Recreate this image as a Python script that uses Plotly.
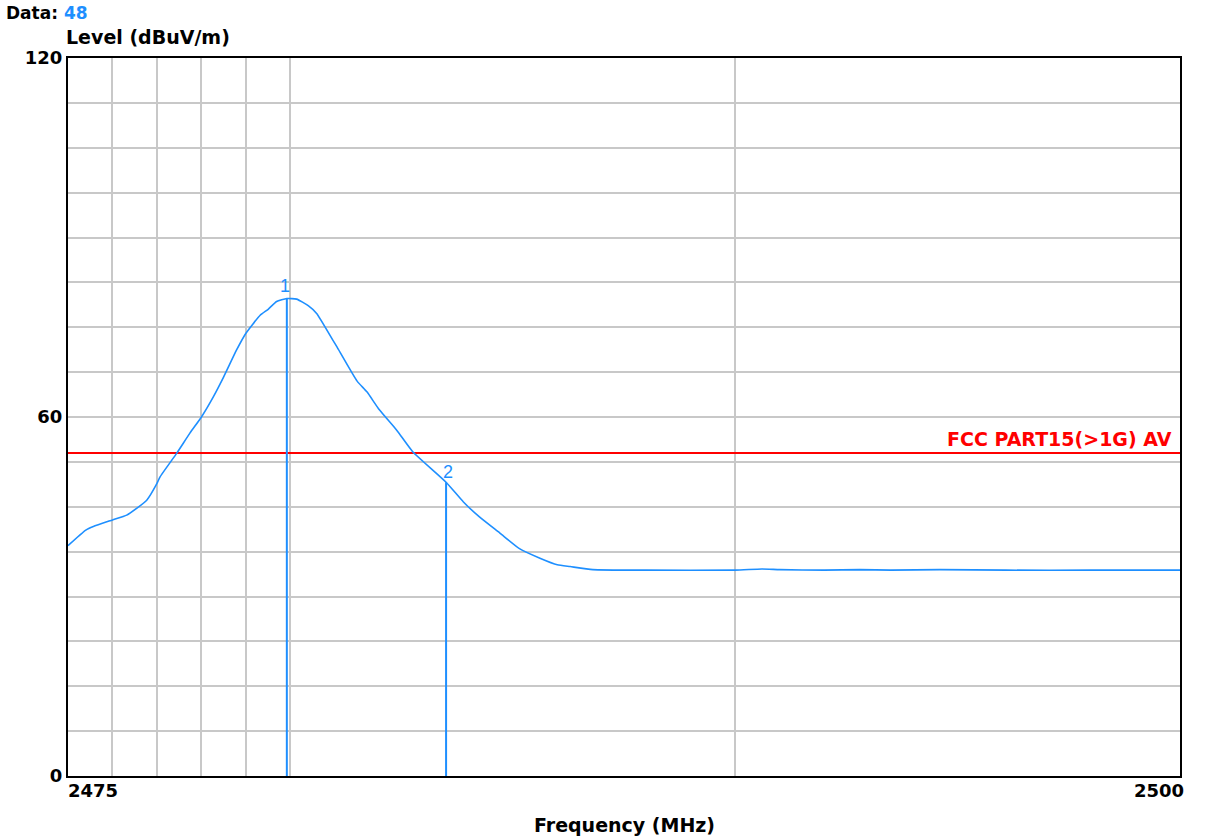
import plotly.graph_objects as go

# ---- data ----
freq_mhz = [2475.0, 2475.4, 2475.57, 2476.0, 2476.32, 2476.77, 2477.0, 2477.07,
            2477.45, 2477.74, 2478.0, 2478.27, 2478.5, 2478.79, 2479.0, 2479.32, 2479.5,
            2479.69, 2479.92, 2480.14, 2480.4, 2480.59, 2480.95, 2481.04, 2481.5, 2481.72,
            2482.0, 2482.39, 2482.75, 2483.5, 2483.89, 2484.25, 2484.71, 2485.15, 2485.61,
            2486.0, 2486.29, 2486.8, 2488.0, 2490.0, 2490.6, 2491.0, 2492.0, 2492.8,
            2493.5, 2494.6, 2496.1, 2498.0, 2500.0]
level_dbuv = [38.5, 41.1, 41.7, 42.8, 43.6, 46.1, 48.9, 50.0,
              54.0, 57.3, 60.0, 63.4, 66.7, 71.2, 74.0, 77.0, 78.0,
              79.3, 79.8, 79.7, 78.6, 77.3, 72.9, 71.8, 66.0, 64.2,
              61.2, 57.8, 54.2, 49.1, 45.8, 43.3, 40.6, 38.0, 36.4,
              35.3, 35.0, 34.5, 34.4, 34.4, 34.6, 34.5, 34.4, 34.5,
              34.4, 34.5, 34.4, 34.4, 34.4]

marker_labels = ["1", "2"]
marker_freq = [2479.92, 2483.5]
marker_level = [79.8, 49.1]

limit_name = "FCC PART15(>1G) AV"
limit_level = 54.0

x_range = [2475, 2500]
y_range = [0, 120]
x_tick_labels = ["2475", "2500"]
y_tick_vals = [0, 60, 120]
x_grid_vals = [2476, 2477, 2478, 2479, 2480, 2490]
y_grid_step = 7.5

BLUE = "#1E8FFF"
RED = "#FF0000"
GRID = "#C8C8C8"
FONT = "DejaVu Sans, Verdana, sans-serif"
MFONT = "Liberation Sans, Arial, sans-serif"

fig = go.Figure()

# limit line
fig.add_trace(go.Scatter(x=x_range, y=[limit_level, limit_level], mode="lines",
                         line=dict(color=RED, width=2), hoverinfo="skip"))

# markers (vertical lines from 0 to level)
for lab, f, lv in zip(marker_labels, marker_freq, marker_level):
    fig.add_trace(go.Scatter(x=[f, f], y=[y_range[0], lv], mode="lines",
                             line=dict(color=BLUE, width=2), hoverinfo="skip"))
    fig.add_annotation(x=f, y=lv, text=lab, showarrow=False, yanchor="bottom",
                       xanchor="left" if lab == "2" else "center",
                       xshift=-5 if lab == "2" else -2, yshift=1 if lab == "1" else -2,
                       font=dict(family=MFONT, size=18, color=BLUE))

# measurement trace
fig.add_trace(go.Scatter(x=freq_mhz, y=level_dbuv, mode="lines",
                         line=dict(color=BLUE, width=1.6, shape="spline", smoothing=0.5),
                         hoverinfo="skip"))

# limit label
fig.add_annotation(x=x_range[1], y=limit_level, text="<b>" + limit_name + "</b>",
                   showarrow=False, xanchor="right", yanchor="bottom",
                   xshift=-6, yshift=1,
                   font=dict(family=FONT, size=19, color=RED))

# x tick labels
fig.add_annotation(x=x_range[0], y=0, yref="paper", text="<b>" + x_tick_labels[0] + "</b>",
                   showarrow=False, xanchor="left", yanchor="top", yshift=-2, xshift=-2,
                   font=dict(family=FONT, size=18, color="black"))
fig.add_annotation(x=x_range[1], y=0, yref="paper", text="<b>" + x_tick_labels[1] + "</b>",
                   showarrow=False, xanchor="right", yanchor="top", yshift=-2, xshift=6,
                   font=dict(family=FONT, size=18, color="black"))

# titles
fig.add_annotation(x=0, y=1, xref="paper", yref="paper", text="<b>Level (dBuV/m)</b>",
                   showarrow=False, xanchor="left", yanchor="bottom", xshift=-3, yshift=9,
                   borderpad=0, font=dict(family=FONT, size=19, color="black"))
fig.add_annotation(x=0, y=1, xref="paper", yref="paper",
                   text="<b>Data: <span style='color:%s'>48</span></b>" % BLUE,
                   showarrow=False, xanchor="left", yanchor="bottom", xshift=-63, yshift=34,
                   borderpad=0, font=dict(family=FONT, size=17, color="black"))
fig.add_annotation(x=0.5, y=0, xref="paper", yref="paper", text="<b>Frequency (MHz)</b>",
                   showarrow=False, xanchor="center", yanchor="top", yshift=-36,
                   font=dict(family=FONT, size=19, color="black"))

fig.update_layout(
    width=1210, height=838,
    margin=dict(l=68, r=30, t=58, b=62),
    paper_bgcolor="white", plot_bgcolor="white",
    showlegend=False,
    xaxis=dict(range=x_range, showticklabels=False, ticks="",
               tickvals=x_grid_vals, showgrid=True, gridcolor=GRID, gridwidth=2,
               zeroline=False, showline=True, linecolor="black", linewidth=2, mirror=True),
    yaxis=dict(range=y_range, tickvals=y_tick_vals, ticks="",
               tickfont=dict(family=FONT, size=18, color="black", weight="bold"),
               showgrid=True, gridcolor=GRID, gridwidth=2,
               minor=dict(dtick=y_grid_step, tick0=0, showgrid=True, gridcolor=GRID, gridwidth=2),
               zeroline=False, showline=True, linecolor="black", linewidth=2, mirror=True),
)

fig.write_html("out.html", config={"displayModeBar": False},
               post_script="document.body.style.margin='0px';")
